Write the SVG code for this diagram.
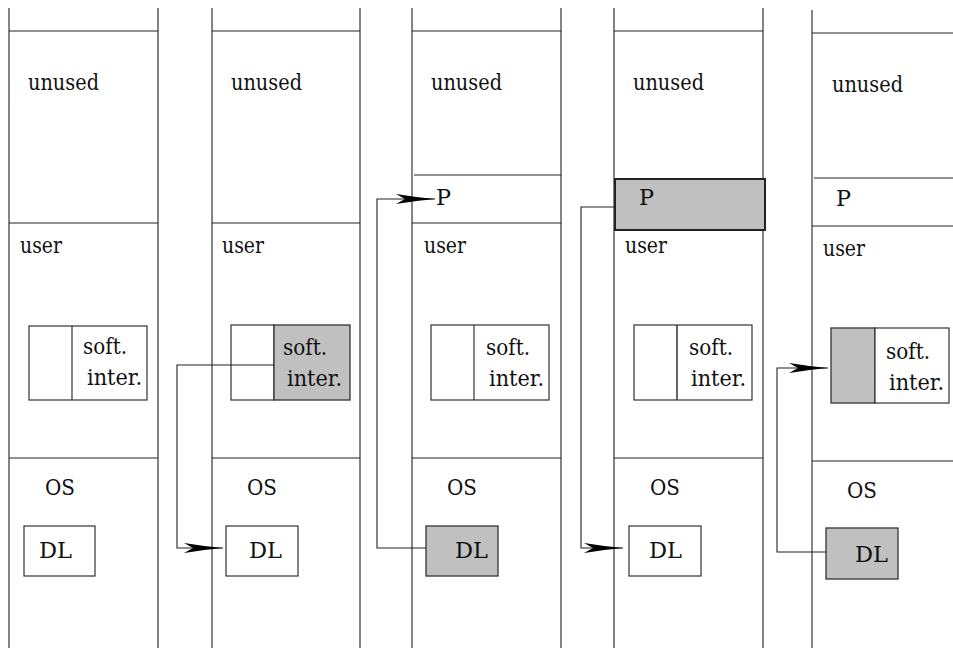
<svg xmlns="http://www.w3.org/2000/svg" width="953" height="648" viewBox="0 0 953 648">
<style>
text{font-family:'DejaVu Serif','Liberation Serif',serif;font-size:22.5px;fill:#111}
.v{stroke:#444;stroke-width:1.3;fill:none}
.h{stroke:#222;stroke-width:1.1;fill:none}
.box{stroke:#333;stroke-width:1.2;fill:#fff}
.sh{stroke:#333;stroke-width:1.3;fill:#c0c0c0}
.con{stroke:#222;stroke-width:1.1;fill:none}
</style>
<defs>
<marker id="ah" markerUnits="userSpaceOnUse" markerWidth="44" markerHeight="14" viewBox="-40 -7 42 14" refX="0" refY="0" orient="auto">
<path d="M0,0 Q-20,-1.8 -39,-5 L-30,0 L-39,5 Q-20,1.8 0,0 Z" fill="#000"/>
</marker>
</defs>

<g id="col1">
<path class="v" d="M9,8V648M158,8V648"/>
<path class="h" d="M9,31H158M9,223H158M9,458H158"/>
<text x="28" y="90" textLength="71" lengthAdjust="spacingAndGlyphs">unused</text>
<text x="20" y="253" textLength="42" lengthAdjust="spacingAndGlyphs">user</text>
<rect class="box" x="29" y="326" width="118" height="74"/>
<path class="h" d="M72,326V400"/>
<text x="83" y="354" textLength="44" lengthAdjust="spacingAndGlyphs">soft.</text>
<text x="87" y="385" textLength="55" lengthAdjust="spacingAndGlyphs">inter.</text>
<text x="45" y="495" textLength="30" lengthAdjust="spacingAndGlyphs">OS</text>
<rect class="box" x="24" y="526" width="71" height="50"/>
<text x="39" y="558" textLength="33" lengthAdjust="spacingAndGlyphs">DL</text>
</g>

<g id="col2">
<path class="v" d="M212,8V648M360,8V648"/>
<path class="h" d="M212,31H360M212,223H360M212,458H360"/>
<text x="231" y="90" textLength="71" lengthAdjust="spacingAndGlyphs">unused</text>
<text x="222" y="253" textLength="42" lengthAdjust="spacingAndGlyphs">user</text>
<rect class="box" x="231" y="325" width="43" height="75"/>
<rect class="sh" x="274" y="325" width="76" height="75"/>
<text x="283" y="355" textLength="44" lengthAdjust="spacingAndGlyphs">soft.</text>
<text x="287" y="386" textLength="55" lengthAdjust="spacingAndGlyphs">inter.</text>
<text x="247" y="495" textLength="30" lengthAdjust="spacingAndGlyphs">OS</text>
<rect class="box" x="226" y="526" width="72" height="50"/>
<text x="249" y="558" textLength="33" lengthAdjust="spacingAndGlyphs">DL</text>
</g>

<g id="col3">
<path class="v" d="M412,8V648M561,8V648"/>
<path class="h" d="M412,31H561M414,175H561M412,223H561M412,458H561"/>
<text x="431" y="90" textLength="71" lengthAdjust="spacingAndGlyphs">unused</text>
<text x="436" y="205" textLength="15" lengthAdjust="spacingAndGlyphs">P</text>
<text x="424" y="253" textLength="42" lengthAdjust="spacingAndGlyphs">user</text>
<rect class="box" x="431" y="325" width="118" height="75"/>
<path class="h" d="M474,325V400"/>
<text x="486" y="355" textLength="44" lengthAdjust="spacingAndGlyphs">soft.</text>
<text x="489" y="386" textLength="55" lengthAdjust="spacingAndGlyphs">inter.</text>
<text x="447" y="495" textLength="30" lengthAdjust="spacingAndGlyphs">OS</text>
<rect class="sh" x="426" y="526" width="72" height="50"/>
<text x="455" y="558" textLength="33" lengthAdjust="spacingAndGlyphs">DL</text>
</g>

<g id="col4">
<path class="v" d="M614,8V648M763,8V648"/>
<path class="h" d="M614,31H763M614,458H763"/>
<text x="633" y="90" textLength="71" lengthAdjust="spacingAndGlyphs">unused</text>
<rect x="615" y="179" width="150" height="51" fill="#c0c0c0" stroke="#222" stroke-width="2"/>
<text x="639" y="205" textLength="15" lengthAdjust="spacingAndGlyphs">P</text>
<text x="625" y="253" textLength="42" lengthAdjust="spacingAndGlyphs">user</text>
<rect class="box" x="634" y="325" width="118" height="75"/>
<path d="M677,325V400" stroke="#333" stroke-width="1.5"/>
<text x="689" y="355" textLength="44" lengthAdjust="spacingAndGlyphs">soft.</text>
<text x="691" y="386" textLength="55" lengthAdjust="spacingAndGlyphs">inter.</text>
<text x="650" y="495" textLength="30" lengthAdjust="spacingAndGlyphs">OS</text>
<rect class="box" x="629" y="526" width="72" height="50" stroke="#666" stroke-width="1.5"/>
<text x="649" y="558" textLength="33" lengthAdjust="spacingAndGlyphs">DL</text>
</g>

<g id="col5">
<path class="v" d="M812,10V648"/>
<path class="h" d="M812,33H953M814,178H953M812,226H953M812,461H953"/>
<text x="832" y="92" textLength="71" lengthAdjust="spacingAndGlyphs">unused</text>
<text x="836" y="206" textLength="15" lengthAdjust="spacingAndGlyphs">P</text>
<text x="823" y="256" textLength="42" lengthAdjust="spacingAndGlyphs">user</text>
<rect class="sh" x="831" y="328" width="44" height="75"/>
<rect class="box" x="875" y="328" width="74" height="75"/>
<text x="886" y="359" textLength="44" lengthAdjust="spacingAndGlyphs">soft.</text>
<text x="889" y="390" textLength="55" lengthAdjust="spacingAndGlyphs">inter.</text>
<text x="847" y="498" textLength="30" lengthAdjust="spacingAndGlyphs">OS</text>
<rect class="sh" x="826" y="528" width="72" height="51"/>
<text x="855" y="562" textLength="33" lengthAdjust="spacingAndGlyphs">DL</text>
</g>

<g id="connectors">
<path class="con" d="M274,365H177V548H223" marker-end="url(#ah)"/>
<path class="con" d="M426,548H377V199H435" marker-end="url(#ah)"/>
<path class="con" d="M614,207H581V548H623" marker-end="url(#ah)"/>
<path class="con" d="M826,552H777V368H828" marker-end="url(#ah)"/>
</g>
</svg>
